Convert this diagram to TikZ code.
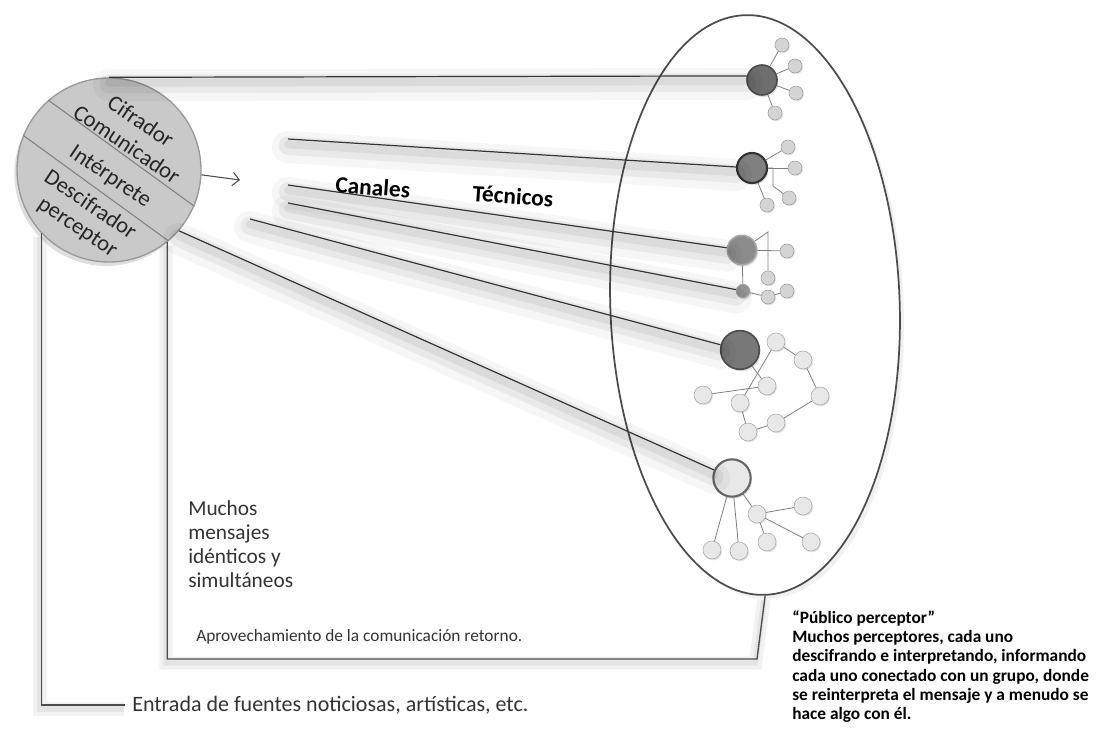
\documentclass[tikz,border=0pt]{standalone}
\usepackage{fontspec}
\setmainfont{Carlito}
\usetikzlibrary{shapes.geometric,shadows,arrows.meta}

\begin{document}
\begin{tikzpicture}[x=0.75pt, y=-0.75pt,
    canal/.style={draw=black!80, line width=0.9pt,
      preaction={draw=black, opacity=0.035, line width=24pt, line cap=round, transform canvas={yshift=-6pt}},
      preaction={draw=black, opacity=0.05, line width=14pt, line cap=round, transform canvas={yshift=-5pt}},
      preaction={draw=black, opacity=0.06, line width=6pt, line cap=round, transform canvas={yshift=-4pt}}},
    retorno/.style={draw=black!70, line width=1pt,
      preaction={draw=black, opacity=0.05, line width=10pt, transform canvas={xshift=-1pt, yshift=-3pt}},
      preaction={draw=black, opacity=0.06, line width=4pt, transform canvas={xshift=-1pt, yshift=-3pt}}},
    grande/.style={circle, inner sep=0pt, minimum size=#1, line width=1.2pt,
      drop shadow={opacity=0.25, shadow xshift=1pt, shadow yshift=-1.5pt}},
    chico/.style={circle, inner sep=0pt, minimum size=10.5pt, draw=black!40, fill=black!17,
      drop shadow={opacity=0.2, shadow xshift=0.8pt, shadow yshift=-1pt}},
    claro/.style={chico, minimum size=13.5pt, fill=black!9, draw=black!35},
    enlace/.style={draw=black!50, line width=0.6pt},
    dentro/.style={rotate=-34, inner sep=0pt, font=\fontsize{17}{17}\selectfont, text=black!85},
  ]
  \useasboundingbox (0,0) rectangle (1102,728);

  % Publico
  \node[ellipse, draw=black!70, fill=white, line width=1.3pt, minimum width=217pt, minimum height=435pt,
    inner sep=0pt, rotate=2, drop shadow={opacity=0.12, shadow xshift=3pt, shadow yshift=-3pt}] (publico) at (755,305) {};

  % Emisor
  \node[circle, minimum size=138pt, fill=black!21, draw=black!40, line width=1pt,
    drop shadow={opacity=0.25, shadow xshift=-2pt, shadow yshift=-3pt}] (emisor) at (109,170) {};
  \draw[black!50, line width=0.8pt] (emisor.131) -- (emisor.-23);
  \draw[black!50, line width=0.8pt] (emisor.158) -- (emisor.-50);
  \node[dentro] (cifrador) at (141,121) {Cifrador};
  \node[dentro] (comunicador) at (127,144) {Comunicador};
  \node[dentro] (interprete) at (110,177) {Intérprete};
  \node[dentro] (descifrador) at (91,204) {Descifrador};
  \node[dentro] (perceptor) at (77,228) {perceptor};

  \coordinate (flecha) at (240,180);
  \draw[-{Straight Barb[length=5pt, width=10pt]}, black!70, line width=0.8pt] (emisor.-3) -- (flecha);

  % Receptores
  \node[grande=22.5pt, fill=black!57, draw=black!70] (a1) at (762,80) {};
  \node[chico] (s11) at (782,45) {};
  \node[chico] (s12) at (795,66) {};
  \node[chico] (s13) at (796,93) {};
  \node[chico] (s14) at (775,113) {};
  \draw[enlace] (a1) -- (s11);
  \draw[enlace] (a1) -- (s12);
  \draw[enlace] (a1) -- (s13);
  \draw[enlace] (a1) -- (s14);

  \node[grande=22.5pt, fill=black!50, draw=black!80, line width=1.6pt] (a2) at (752,168) {};
  \node[chico] (s21) at (788,147) {};
  \node[chico] (s22) at (795,168) {};
  \node[chico] (s23) at (789,198) {};
  \node[chico] (s24) at (767,205) {};
  \coordinate (b2) at (773,186);
  \draw[enlace] (a2) -- (s21);
  \draw[enlace] (a2) -- (s22);
  \draw[enlace] (a2.east) -| (b2) -- (s23);
  \draw[enlace] (a2) -- (s24);

  \node[grande=22pt, fill=black!45, draw=black!35] (a3) at (742,250) {};
  \node[chico] (s31) at (768,278) {};
  \node[chico] (s32) at (787,251) {};
  \node[grande=10pt, fill=black!40, draw=black!35, line width=0.6pt] (a4) at (743,291) {};
  \node[chico] (s41) at (768,297) {};
  \node[chico] (s42) at (787,291) {};
  \coordinate (k3) at (768,232);
  \draw[enlace] (a3) -- (k3) -- (s31);
  \draw[enlace] (a3) -- (s32);
  \draw[enlace] (a3) -- (a4);
  \draw[enlace] (a4) -- (s41) -- (s42);

  \node[grande=29pt, fill=black!53, draw=black!70] (a5) at (740,350) {};
  \node[claro] (p1) at (776,342) {};
  \node[claro] (p2) at (803,360) {};
  \node[claro] (p3) at (820,396) {};
  \node[claro] (p4) at (767,386) {};
  \node[claro] (p5) at (703,395) {};
  \node[claro] (p6) at (740,403) {};
  \node[claro] (p7) at (776,423) {};
  \node[claro] (p8) at (748,432) {};
  \draw[enlace] (p1) -- (p2) -- (p3) -- (p7) -- (p8) -- (p6) -- (p1);
  \draw[enlace] (p5) -- (p4);
  \draw[enlace] (a5) -- (p4);

  \node[grande=28pt, fill=black!9, draw=black!60, line width=1.6pt] (a6) at (732,478) {};
  \node[claro] (q1) at (757,514) {};
  \node[claro] (q2) at (803,506) {};
  \node[claro] (q3) at (811,542) {};
  \node[claro] (q4) at (767,542) {};
  \node[claro] (q5) at (712,550) {};
  \node[claro] (q6) at (739,551) {};
  \draw[enlace] (a6) -- (q5);
  \draw[enlace] (a6) -- (q6);
  \draw[enlace] (a6) -- (q1);
  \draw[enlace] (q1) -- (q2);
  \draw[enlace] (q1) -- (q3);
  \draw[enlace] (q1) -- (q4);

  % Canales
  \coordinate (c2) at (288,139);
  \coordinate (c3) at (288,185);
  \coordinate (c4) at (288,203);
  \coordinate (c5) at (250,219);
  \draw[canal] (emisor.north) -- (a1.165);
  \draw[canal] (c2) -- (a2);
  \draw[canal] (c3) -- (a3);
  \draw[canal] (c4) -- (a4);
  \draw[canal] (c5) -- (a5);
  \draw[canal] (emisor.-41) -- (a6);
  \node[rotate=-4, font=\fontsize{17.5}{18}\selectfont\bfseries] (canales) at (373,187) {Canales};
  \node[rotate=-4, font=\fontsize{17.5}{18}\selectfont\bfseries] (tecnicos) at (513,196) {Técnicos};

  % Retorno
  \coordinate (entrada) at (125,705);
  \coordinate (esquina) at (757,659);
  \draw[retorno] (emisor.-137) |- (entrada);
  \draw[retorno] (emisor.-51) |- (esquina) -- (publico.south);

  % Textos
  \node[anchor=north west, align=left, inner sep=0pt, text=black!80, font=\fontsize{16}{18}\selectfont] (mensajes) at (188,500) {Muchos\\mensajes\\idénticos y\\simultáneos};
  \node[anchor=west, inner sep=0pt, text=black!80, font=\fontsize{13}{13}\selectfont] (aprovechamiento) at (196,637) {Aprovechamiento de la comunicación retorno.};
  \node[anchor=west, inner sep=0pt, text=black!80, font=\fontsize{16.5}{16.5}\selectfont] (fuentes) at (132,705) {Entrada de fuentes noticiosas, artísticas, etc.};
  \node[anchor=north west, align=left, inner sep=0pt, font=\fontsize{13}{14.5}\selectfont\bfseries] (nota) at (792,610) {“Público perceptor”\\Muchos perceptores, cada uno\\descifrando e interpretando, informando\\cada uno conectado con un grupo, donde\\se reinterpreta el mensaje y a menudo se\\hace algo con él.};
\end{tikzpicture}
\end{document}
